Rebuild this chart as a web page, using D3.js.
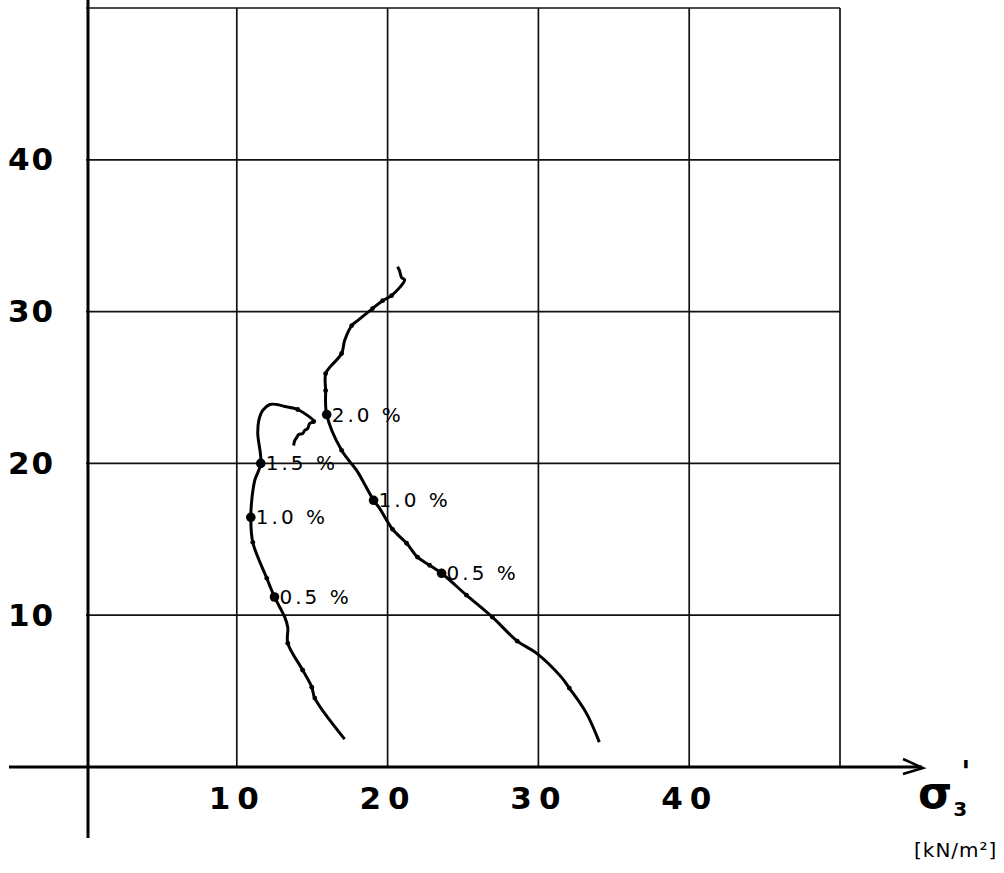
<!DOCTYPE html>
<html>
<head>
<meta charset="utf-8">
<script src="https://cdn.jsdelivr.net/npm/d3@7"></script>
<style>
  body { margin: 0; background: #fff; }
  svg { display: block; }
  .tick text { font-family: "DejaVu Sans", sans-serif; }
</style>
</head>
<body>
<svg id="chart" width="1004" height="873"></svg>
<script>
// Tick labels
const xTicks = [10, 20, 30, 40];
const yTicks = [10, 20, 30, 40];
const gridVals = [10, 20, 30, 40, 50];

// Left curve
const leftX = [17.15, 15.17, 14.97, 14.37, 13.38, 13.38, 13.18, 12.5, 11.99, 11.06, 10.93, 10.99, 11.19, 11.59, 11.39, 11.46, 11.72, 12.19, 12.65, 13.18, 14.04, 15.1, 14.83, 14.7, 14.5, 14.37, 14.1, 13.97, 13.84, 13.77];
const leftY = [1.84, 4.54, 5.26, 6.38, 8.16, 9.2, 9.87, 11.2, 12.43, 14.8, 16.45, 17.57, 18.88, 20.0, 21.97, 22.83, 23.49, 23.88, 23.88, 23.75, 23.55, 22.76, 22.63, 22.3, 22.17, 21.97, 21.9, 21.7, 21.5, 21.18];

// Right curve
const rightX = [34.04, 33.18, 32.05, 31.52, 29.87, 28.6, 26.95, 25.23, 23.58, 22.78, 21.99, 21.26, 20.33, 19.47, 19.07, 18.34, 17.95, 16.95, 15.96, 15.89, 15.89, 16.16, 16.95, 17.15, 17.62, 18.01, 19.0, 19.67, 20.26, 21.13, 20.93, 20.79, 20.66];
const rightY = [1.64, 3.55, 5.2, 5.92, 7.5, 8.29, 9.87, 11.32, 12.76, 13.29, 13.82, 14.74, 15.66, 17.04, 17.57, 18.88, 19.54, 20.86, 23.22, 24.8, 25.92, 26.32, 27.24, 28.09, 29.08, 29.41, 30.2, 30.72, 31.05, 32.1, 32.24, 32.7, 32.96];

// Strain markers
const markX = [12.5, 10.93, 11.59, 23.58, 19.07, 15.96];
const markY = [11.2, 16.45, 20.0, 12.76, 17.57, 23.22];
const markText = ["0.5 %", "1.0 %", "1.5 %", "0.5 %", "1.0 %", "2.0 %"];

// Small sample dots along the curves (indices into the point lists)
const leftDots = [1, 2, 3, 4, 8, 9, 21, 20];
const rightDots = [2, 5, 6, 7, 9, 10, 11, 12, 17, 19, 20, 22, 24, 26, 27, 28];

const svg = d3.select("#chart");
const x = d3.scaleLinear().domain([0, 50]).range([86, 840]);
const y = d3.scaleLinear().domain([0, 50]).range([767, 8]);

// Grid
svg.append("g")
    .selectAll("line")
    .data(gridVals)
    .enter().append("line")
    .attr("x1", d => x(d)).attr("x2", d => x(d))
    .attr("y1", y(50)).attr("y2", y(0))
    .attr("stroke", "#111").attr("stroke-width", 1.7);

svg.append("g")
    .selectAll("line")
    .data(gridVals)
    .enter().append("line")
    .attr("x1", x(0)).attr("x2", x(50))
    .attr("y1", d => y(d)).attr("y2", d => y(d))
    .attr("stroke", "#111").attr("stroke-width", 1.7);

// Main axes
svg.append("line")
    .attr("x1", 88).attr("x2", 88)
    .attr("y1", 0).attr("y2", 838)
    .attr("stroke", "#000").attr("stroke-width", 3);

svg.append("line")
    .attr("x1", 9).attr("x2", 922)
    .attr("y1", y(0)).attr("y2", y(0))
    .attr("stroke", "#000").attr("stroke-width", 3);

svg.append("path")
    .attr("d", `M903,759 L923,${y(0) + 1} L903,774`)
    .attr("fill", "none").attr("stroke", "#000").attr("stroke-width", 2.5);

// Tick labels
const xAxis = svg.append("g")
    .attr("transform", `translate(0, ${y(0)})`)
    .call(d3.axisBottom(x).tickValues(xTicks).tickSize(0).tickPadding(20));
xAxis.select(".domain").remove();
xAxis.selectAll("text")
    .attr("font-size", 31)
    .attr("font-weight", "bold")
    .attr("letter-spacing", 7)
    .attr("fill", "#000");

const yAxis = svg.append("g")
    .attr("transform", "translate(8, 0)")
    .call(d3.axisRight(y).tickValues(yTicks).tickSize(0).tickPadding(0));
yAxis.select(".domain").remove();
yAxis.selectAll("text")
    .attr("font-size", 31)
    .attr("font-weight", "bold")
    .attr("letter-spacing", 2)
    .attr("fill", "#000");

// Curves
const line = d3.line()
    .x(d => x(d[0]))
    .y(d => y(d[1]))
    .curve(d3.curveCatmullRom.alpha(0.5));

const leftPts = leftX.map((v, i) => [v, leftY[i]]);
const rightPts = rightX.map((v, i) => [v, rightY[i]]);

[leftPts, rightPts].forEach(pts => {
    svg.append("path")
        .datum(pts)
        .attr("d", line)
        .attr("fill", "none")
        .attr("stroke", "#000")
        .attr("stroke-width", 3)
        .attr("stroke-linejoin", "round");
});

svg.selectAll(".sdot")
    .data(leftDots.map(i => leftPts[i]).concat(rightDots.map(i => rightPts[i])))
    .enter().append("circle")
    .attr("cx", d => x(d[0])).attr("cy", d => y(d[1]))
    .attr("r", 2.4).attr("fill", "#000");

// Strain markers and labels
svg.selectAll(".mdot")
    .data(markX)
    .enter().append("circle")
    .attr("cx", d => x(d)).attr("cy", (d, i) => y(markY[i]))
    .attr("r", 4.8).attr("fill", "#000");

svg.selectAll(".mlabel")
    .data(markX)
    .enter().append("text")
    .attr("x", d => x(d) + 5)
    .attr("y", (d, i) => y(markY[i]) + 7)
    .attr("font-family", "DejaVu Sans, sans-serif")
    .attr("font-size", 20)
    .attr("letter-spacing", 3)
    .attr("fill", "#000")
    .text((d, i) => markText[i]);

// Axis title
const title = svg.append("text")
    .attr("x", 918).attr("y", 808)
    .attr("font-family", "DejaVu Sans, sans-serif")
    .attr("font-weight", "bold")
    .attr("font-size", 44)
    .attr("fill", "#000");
title.append("tspan").text("σ");
title.append("tspan").attr("font-size", 20).attr("dy", 8).attr("dx", 1).text("3");
title.append("tspan").attr("font-size", 30).attr("dy", -34).attr("dx", -6).text("'");

svg.append("text")
    .attr("x", 914).attr("y", 857)
    .attr("font-family", "DejaVu Sans, sans-serif")
    .attr("font-size", 20)
    .attr("letter-spacing", 1)
    .attr("fill", "#000")
    .text("[kN/m²]");
</script>
</body>
</html>
